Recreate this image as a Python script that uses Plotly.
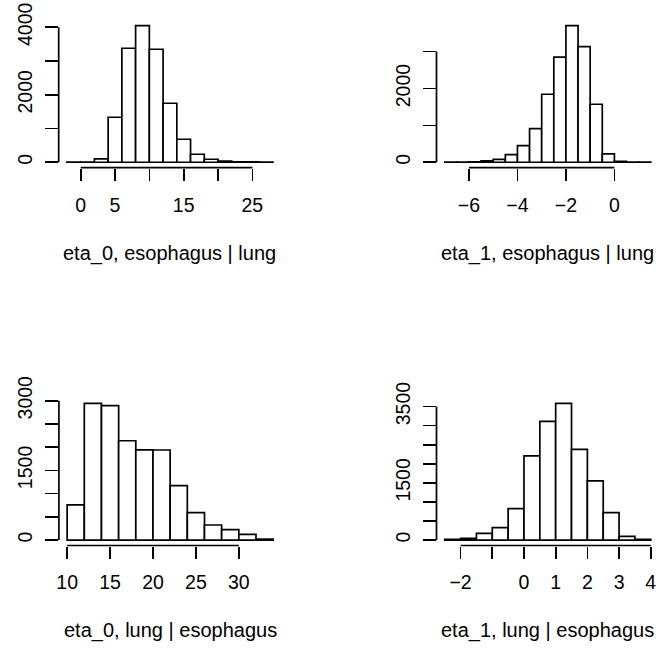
import numpy as np
import plotly.graph_objects as go

W, H = 660, 650

# ---- data (bin counts) ----
p1_start, p1_width = -2.0, 2.0
p1_counts = [3, 6, 100, 1333, 3378, 4050, 3348, 1748, 681, 237, 89, 30, 15, 8, 5]
p1_xticks = [0, 5, 10, 15, 20, 25]
p1_xlabels = ["0", "5", "", "15", "", "25"]
p1_yticks = [0, 1000, 2000, 3000, 4000]
p1_ylabels = ["0", "", "2000", "", "4000"]
p1_title = "eta_0, esophagus | lung"

p2_start, p2_width = -7.0, 0.5
p2_counts = [3, 5, 10, 35, 80, 208, 452, 913, 1844, 2848, 3706, 3137, 1573, 226, 27, 5, 2]
p2_xticks = [-6, -4, -2, 0]
p2_xlabels = ["\u22126", "\u22124", "\u22122", "0"]
p2_yticks = [0, 1000, 2000, 3000]
p2_ylabels = ["0", "", "2000", ""]
p2_title = "eta_1, esophagus | lung"

p3_start, p3_width = 10.0, 2.0
p3_counts = [755, 2942, 2892, 2137, 1942, 1938, 1172, 590, 324, 223, 122, 20]
p3_xticks = [10, 15, 20, 25, 30]
p3_xlabels = ["10", "15", "20", "25", "30"]
p3_yticks = [0, 500, 1000, 1500, 2000, 2500, 3000]
p3_ylabels = ["0", "", "", "1500", "", "", "3000"]
p3_title = "eta_0, lung | esophagus"

p4_start, p4_width = -2.5, 0.5
p4_counts = [15, 45, 175, 324, 823, 2207, 3110, 3582, 2374, 1550, 718, 96, 15]
p4_xticks = [-2, -1, 0, 1, 2, 3, 4]
p4_xlabels = ["\u22122", "", "0", "1", "2", "3", "4"]
p4_yticks = [0, 500, 1000, 1500, 2000, 2500, 3000, 3500]
p4_ylabels = ["0", "", "", "1500", "", "", "", "3500"]
p4_title = "eta_1, lung | esophagus"

panels = [
    dict(start=p1_start, width=p1_width, counts=p1_counts, xt=p1_xticks, xl=p1_xlabels,
         yt=p1_yticks, yl=p1_ylabels, title=p1_title, left=58.7, top=20.1),
    dict(start=p2_start, width=p2_width, counts=p2_counts, xt=p2_xticks, xl=p2_xlabels,
         yt=p2_yticks, yl=p2_ylabels, title=p2_title, left=436.5, top=20.1),
    dict(start=p3_start, width=p3_width, counts=p3_counts, xt=p3_xticks, xl=p3_xlabels,
         yt=p3_yticks, yl=p3_ylabels, title=p3_title, left=58.9, top=397.9),
    dict(start=p4_start, width=p4_width, counts=p4_counts, xt=p4_xticks, xl=p4_xlabels,
         yt=p4_yticks, yl=p4_ylabels, title=p4_title, left=436.5, top=397.9),
]

PW, PH = 222.5, 147.6
FONT = "Liberation Sans, Arial, Helvetica, sans-serif"
FS = 19.5
LW = 1.7

fig = go.Figure()
layout = dict(
    width=W, height=H, margin=dict(l=0, r=0, t=0, b=0, autoexpand=False),
    paper_bgcolor="white", plot_bgcolor="white", showlegend=False,
    font=dict(family=FONT, size=FS, color="black"),
)
shapes = []
annotations = []

for i, p in enumerate(panels):
    n = len(p["counts"])
    edges = p["start"] + p["width"] * np.arange(n + 1)
    centers = (edges[:-1] + edges[1:]) / 2
    xs = "" if i == 0 else str(i + 1)
    xa, ya = "x" + xs, "y" + xs
    fig.add_trace(go.Bar(
        x=centers, y=p["counts"], width=p["width"], xaxis=xa, yaxis=ya,
        marker=dict(color="white", line=dict(color="black", width=LW)),
        hoverinfo="skip",
    ))
    xr = edges[-1] - edges[0]
    xrange = [edges[0] - 0.04 * xr, edges[-1] + 0.04 * xr]
    ymax = max(p["counts"])
    yrange = [-0.04 * ymax, 1.04 * ymax]
    x0 = p["left"] / W
    x1 = (p["left"] + PW) / W
    y1 = 1 - p["top"] / H
    y0 = 1 - (p["top"] + PH) / H
    layout["xaxis" + xs] = dict(
        domain=[x0, x1], range=xrange, anchor=ya, showgrid=False, zeroline=False,
        showline=False, ticks="outside", ticklen=12.5, tickwidth=LW, tickcolor="black",
        tickmode="array", tickvals=p["xt"], ticktext=p["xl"], automargin=False,
        tickfont=dict(family=FONT, size=FS, color="black"), ticklabelstandoff=7,
        fixedrange=True,
    )
    layout["yaxis" + xs] = dict(
        domain=[y0, y1], range=yrange, anchor=xa, showgrid=False, zeroline=False,
        showline=False, ticks="outside", ticklen=13, tickwidth=LW, tickcolor="black",
        tickmode="array", tickvals=p["yt"], ticktext=p["yl"], tickangle=-90,
        automargin=False,
        tickfont=dict(family=FONT, size=FS, color="black"), ticklabelstandoff=5,
        fixedrange=True,
    )
    shapes.append(dict(type="line", xref=xa, yref=ya + " domain",
                       x0=p["xt"][0], x1=p["xt"][-1], y0=0, y1=0,
                       line=dict(color="black", width=LW)))
    shapes.append(dict(type="line", xref=xa + " domain", yref=ya,
                       x0=0, x1=0, y0=p["yt"][0], y1=p["yt"][-1],
                       line=dict(color="black", width=LW)))
    annotations.append(dict(
        text=p["title"], xref=xa + " domain", x=0.5, yref="paper",
        y=1 - (p["top"] + 233) / H, yanchor="middle", xanchor="center",
        showarrow=False, font=dict(family=FONT, size=20, color="black"),
    ))

layout["shapes"] = shapes
layout["annotations"] = annotations
fig.update_layout(**layout)
fig.write_html(
    "out.html",
    config={"staticPlot": True},
    post_script="document.body.style.margin='0';document.body.style.overflow='hidden';",
)
